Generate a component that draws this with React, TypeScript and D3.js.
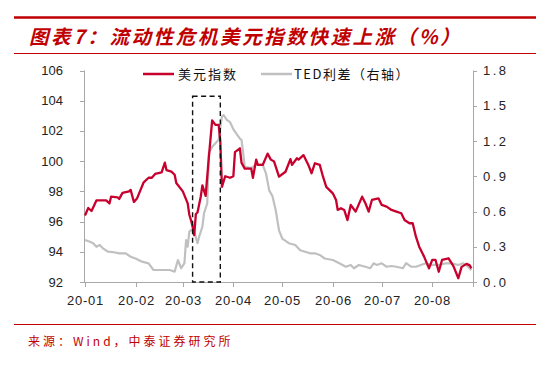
import React from "react";
import * as d3 from "d3";

const dxyDates = ["2020-01-01","2020-01-03","2020-01-05","2020-01-08","2020-01-14","2020-01-16","2020-01-17","2020-01-21","2020-01-22","2020-01-24","2020-01-28","2020-01-29","2020-01-31","2020-02-02","2020-02-06","2020-02-09","2020-02-11","2020-02-13","2020-02-17","2020-02-19","2020-02-20","2020-02-23","2020-02-25","2020-02-26","2020-03-01","2020-03-04","2020-03-05","2020-03-06","2020-03-07","2020-03-08","2020-03-09","2020-03-10","2020-03-12","2020-03-13","2020-03-15","2020-03-17","2020-03-19","2020-03-21","2020-03-23","2020-03-24","2020-03-25","2020-03-27","2020-03-30","2020-04-01","2020-04-02","2020-04-05","2020-04-06","2020-04-08","2020-04-12","2020-04-13","2020-04-15","2020-04-16","2020-04-19","2020-04-22","2020-04-24","2020-04-26","2020-04-29","2020-05-03","2020-05-06","2020-05-07","2020-05-10","2020-05-11","2020-05-14","2020-05-17","2020-05-19","2020-05-21","2020-05-24","2020-05-26","2020-05-28","2020-06-01","2020-06-03","2020-06-04","2020-06-06","2020-06-08","2020-06-10","2020-06-12","2020-06-15","2020-06-19","2020-06-21","2020-06-23","2020-06-25","2020-06-29","2020-07-01","2020-07-04","2020-07-07","2020-07-10","2020-07-13","2020-07-15","2020-07-18","2020-07-20","2020-07-22","2020-07-24","2020-07-27","2020-07-30","2020-08-01","2020-08-03","2020-08-05","2020-08-07","2020-08-11","2020-08-14","2020-08-17","2020-08-19","2020-08-22","2020-08-24","2020-08-25"];
const dxyValues = [96.4,96.9,96.7,97.4,97.4,97.2,97.65,97.6,97.5,97.9,98.0,98.1,97.3,97.55,98.6,98.9,98.9,99.15,99.25,99.9,99.4,99.3,99.1,98.55,98.0,97.2,96.45,96.1,95.66,95.1,96.5,96.6,97.65,98.4,97.7,100.3,102.7,102.4,102.4,101.3,98.3,99.0,98.9,99.0,100.6,100.85,99.9,99.5,99.5,98.9,100.1,99.75,99.75,100.5,100.1,99.97,98.97,99.3,100.13,99.75,100.19,100.1,100.4,99.75,99.2,99.86,99.75,98.97,98.3,97.87,97.43,96.77,96.88,96.77,96.1,97.1,96.66,97.65,97.21,96.66,97.43,97.54,97.1,96.99,96.77,96.66,96.55,96.1,95.89,95.89,95.0,94.34,93.68,92.9,93.46,93.46,92.68,93.46,93.57,93.05,92.25,93.0,93.2,93.1,92.9];

const tedDates = ["2020-01-01","2020-01-04","2020-01-06","2020-01-08","2020-01-10","2020-01-12","2020-01-15","2020-01-18","2020-01-22","2020-01-26","2020-01-29","2020-02-01","2020-02-05","2020-02-09","2020-02-12","2020-02-17","2020-02-22","2020-02-25","2020-02-27","2020-02-29","2020-03-02","2020-03-03","2020-03-04","2020-03-05","2020-03-06","2020-03-08","2020-03-10","2020-03-11","2020-03-13","2020-03-14","2020-03-16","2020-03-17","2020-03-19","2020-03-21","2020-03-23","2020-03-24","2020-03-25","2020-03-26","2020-03-28","2020-03-30","2020-03-31","2020-04-01","2020-04-02","2020-04-05","2020-04-06","2020-04-07","2020-04-08","2020-04-12","2020-04-15","2020-04-19","2020-04-21","2020-04-23","2020-04-25","2020-04-27","2020-04-29","2020-05-01","2020-05-05","2020-05-09","2020-05-12","2020-05-15","2020-05-18","2020-05-21","2020-05-24","2020-05-27","2020-06-01","2020-06-05","2020-06-09","2020-06-12","2020-06-14","2020-06-17","2020-06-21","2020-06-24","2020-06-26","2020-06-28","2020-07-01","2020-07-04","2020-07-07","2020-07-10","2020-07-14","2020-07-16","2020-07-19","2020-07-22","2020-07-25","2020-07-28","2020-08-01","2020-08-05","2020-08-09","2020-08-13","2020-08-17","2020-08-20","2020-08-23","2020-08-25"];
const tedValues = [0.357,0.343,0.33,0.30,0.315,0.287,0.258,0.255,0.244,0.244,0.215,0.20,0.173,0.159,0.102,0.102,0.102,0.088,0.187,0.117,0.16,0.357,0.30,0.428,0.443,0.43,0.33,0.386,0.47,0.585,0.67,1.10,1.15,1.18,1.21,1.31,1.41,1.42,1.38,1.36,1.33,1.30,1.28,1.22,1.21,1.10,0.98,0.97,1.0,1.0,0.925,0.78,0.73,0.61,0.44,0.37,0.33,0.315,0.27,0.258,0.244,0.244,0.23,0.20,0.187,0.159,0.13,0.145,0.117,0.145,0.13,0.117,0.159,0.145,0.159,0.13,0.136,0.13,0.117,0.16,0.13,0.13,0.145,0.159,0.145,0.145,0.159,0.159,0.145,0.159,0.13,0.10];

const leftTicks = [92, 94, 96, 98, 100, 102, 104, 106];
const rightTicks = [0, 0.3, 0.6, 0.9, 1.2, 1.5, 1.8];
const monthTicks = ["2020-01-01","2020-02-01","2020-03-01","2020-04-01","2020-05-01","2020-06-01","2020-07-01","2020-08-01"];
const xDomain = ["2020-01-01", "2020-08-26"];
const boxDates = ["2020-03-07", "2020-03-24"];
const boxValues = [92, 104.3];

const title = "图表7：流动性危机美元指数快速上涨（%）";
const source = "来源：Wind，中泰证券研究所";
const seriesNames = ["美元指数", "TED利差（右轴）"];

const RED = "#c8002d";
const GRAY = "#c0c0c0";
const AXIS = "#a8a8a8";
const TITLE_RED = "#c00000";

const parse = d3.utcParse("%Y-%m-%d");

export default function App() {
  const x = d3.scaleUtc().domain(xDomain.map((d) => parse(d)!)).range([85, 473]);
  const yL = d3.scaleLinear().domain([92, 106]).range([282, 70.5]);
  const yR = d3.scaleLinear().domain([0, 1.8]).range([282, 70.5]);
  const fmtMonth = d3.utcFormat("%y-%m");

  const dxy = dxyDates.map((d, i) => ({ t: parse(d)!, v: dxyValues[i] }));
  const ted = tedDates.map((d, i) => ({ t: parse(d)!, v: tedValues[i] }));

  const lineL = d3.line<{ t: Date; v: number }>().x((d) => x(d.t)).y((d) => yL(d.v)).curve(d3.curveLinear);
  const lineR = d3.line<{ t: Date; v: number }>().x((d) => x(d.t)).y((d) => yR(d.v)).curve(d3.curveLinear);

  const bx0 = x(parse(boxDates[0])!);
  const bx1 = x(parse(boxDates[1])!);
  const by0 = yL(boxValues[1]);
  const by1 = yL(boxValues[0]);

  const tickFont = "'Liberation Sans', Arial, sans-serif";
  const cjk = "'Noto Sans CJK SC', sans-serif";

  return (
    <svg width={550} height={369} style={{ position: "absolute", left: 0, top: 0, background: "#fff" }}>
      <rect width={550} height={369} fill="#fff" />
      {/* header */}
      <line x1={14} x2={536} y1={17.5} y2={17.5} stroke={TITLE_RED} strokeWidth={2.5} />
      <text x={29} y={44} fill={TITLE_RED} fontFamily={cjk} fontWeight={700} fontStyle="italic" fontSize={19.5} letterSpacing={2.6}>
        {title}
      </text>
      <line x1={14} x2={536} y1={53.5} y2={53.5} stroke={TITLE_RED} strokeWidth={1} />

      {/* axes */}
      <line x1={84.5} x2={84.5} y1={70.5} y2={282} stroke={AXIS} strokeWidth={1} />
      <line x1={473.5} x2={473.5} y1={70.5} y2={282} stroke={AXIS} strokeWidth={1} />
      <line x1={84} x2={474} y1={282.5} y2={282.5} stroke={AXIS} strokeWidth={1} />
      {leftTicks.map((t) => (
        <g key={"l" + t}>
          <line x1={80} x2={84.5} y1={Math.round(yL(t)) + 0.5} y2={Math.round(yL(t)) + 0.5} stroke={AXIS} />
          <text x={63} y={yL(t)} dy="0.35em" textAnchor="end" fontFamily={tickFont} fontSize={13} fill="#222">
            {t}
          </text>
        </g>
      ))}
      {rightTicks.map((t) => (
        <g key={"r" + t}>
          <line x1={473.5} x2={477} y1={Math.round(yR(t)) + 0.5} y2={Math.round(yR(t)) + 0.5} stroke={AXIS} />
          <text x={483} y={yR(t)} dy="0.35em" textAnchor="start" fontFamily={tickFont} fontSize={13} letterSpacing={2.5} fill="#222">
            {t.toFixed(1)}
          </text>
        </g>
      ))}
      {monthTicks.map((m) => {
        const xp = Math.round(x(parse(m)!)) + 0.5;
        return (
          <g key={m}>
            <line x1={xp} x2={xp} y1={282.5} y2={287} stroke={AXIS} />
            <text x={xp} y={305} textAnchor="middle" fontFamily={tickFont} fontSize={13} letterSpacing={0.8} fill="#222">
              {fmtMonth(parse(m)!)}
            </text>
          </g>
        );
      })}
      <line x1={473.5} x2={473.5} y1={282.5} y2={287} stroke={AXIS} />

      {/* series */}
      <path d={lineR(ted) || ""} fill="none" stroke={GRAY} strokeWidth={2.2} strokeLinejoin="round" />
      <path d={lineL(dxy) || ""} fill="none" stroke={RED} strokeWidth={2.3} strokeLinejoin="round" />

      {/* annotation box */}
      <rect x={bx0} y={by0} width={bx1 - bx0} height={by1 - by0} fill="none" stroke="#111" strokeWidth={1.4} strokeDasharray="5,3.5" />

      {/* legend */}
      <line x1={143} x2={174} y1={74} y2={74} stroke={RED} strokeWidth={2.5} />
      <text x={178} y={74} dy="0.36em" fontFamily={cjk} fontSize={13} letterSpacing={2} fill="#111">
        {seriesNames[0]}
      </text>
      <line x1={261} x2={292} y1={74} y2={74} stroke={GRAY} strokeWidth={2.5} />
      <text x={294} y={74} dy="0.36em" fontFamily={cjk} fontSize={13} letterSpacing={1.5} fill="#111">
        {seriesNames[1]}
      </text>

      {/* footer */}
      <line x1={14} x2={536} y1={324.5} y2={324.5} stroke={TITLE_RED} strokeWidth={1} />
      <text x={28} y={346} fontFamily={cjk} fontSize={12} letterSpacing={3} fill={TITLE_RED}>
        {source}
      </text>
    </svg>
  );
}
